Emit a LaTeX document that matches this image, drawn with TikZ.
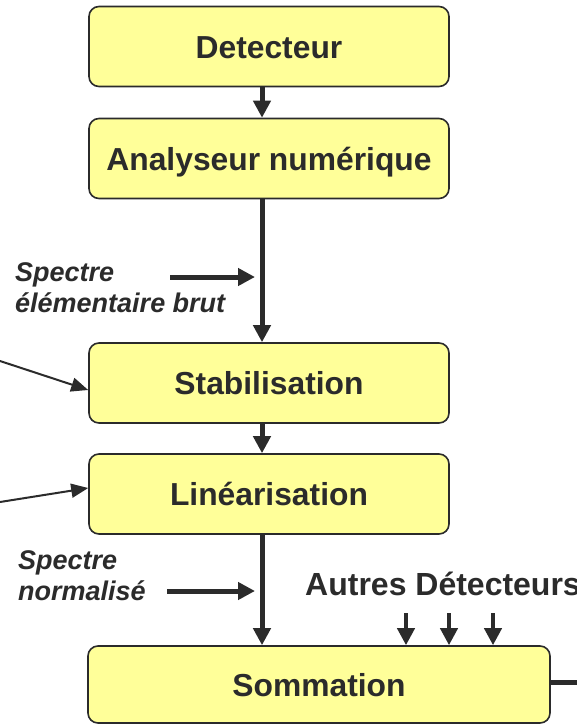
\documentclass[tikz,border=0pt]{standalone}
\usepackage{fontspec}
\setmainfont{Liberation Sans}
\usetikzlibrary{arrows.meta}
\definecolor{boxfill}{HTML}{FFFF99}
\definecolor{ink}{HTML}{2B2B2B}
\begin{document}
\begin{tikzpicture}[x=1pt,y=-1pt,
  stage/.style={draw=ink, line width=1.6pt, fill=boxfill, rounded corners=10pt,
    minimum width=360pt, minimum height=80pt, inner sep=0pt, text=ink,
    text height=23pt, text depth=0pt,
    font=\fontsize{31.8}{36}\selectfont\bfseries},
  flow/.style={draw=ink, line width=5pt, -{Triangle[width=17pt,length=17pt]}},
  feed/.style={draw=ink, line width=2pt, -{Triangle[width=14pt,length=17pt]}},
  tag/.style={inner sep=0pt, text=ink, align=left,
    font=\fontsize{27}{31}\selectfont\bfseries\itshape},
  heading/.style={inner sep=0pt, text=ink, font=\fontsize{32}{36}\selectfont\bfseries},
]
\useasboundingbox (0,0) rectangle (577,724);

% processing chain
\node[stage] (det) at (269,46.5) {Detecteur};
\node[stage] (ana) at (269,158.5) {Analyseur numérique};
\node[stage] (stab) at (269,383) {Stabilisation};
\node[stage] (lin) at (269,494) {Linéarisation};
\node[stage, minimum width=462pt, minimum height=77pt] (som) at (319,684.5) {Sommation};

% main signal path (slightly left of the box centres)
\coordinate (ax) at (262,0);
\draw[flow] (det.south -| ax) -- (ana.north -| ax);
\draw[flow] (ana.south -| ax) -- (stab.north -| ax);
\draw[flow] (stab.south -| ax) -- (lin.north -| ax);
\draw[flow] (lin.south -| ax) -- (som.north -| ax);

% spectrum labels with their pointers (base = last line)
\node[tag, anchor=base west] (s1) at (15,312) {Spectre\\élémentaire brut};
\coordinate (s1a) at (170,277);
\coordinate (s1b) at (255,277);
\draw[flow] (s1a) -- (s1b);

\node[tag, anchor=base west] (s2) at (18,600) {Spectre\\normalisé};
\coordinate (s2a) at (167,591);
\coordinate (s2b) at (255,591);
\draw[flow] (s2a) -- (s2b);

% side inputs coming from the left
\coordinate (in1) at (0,361);
\coordinate (in2) at (0,502);
\draw[feed] (in1) -- (stab.west |- 0,390);
\draw[feed] (in2) -- (lin.west |- 0,488);

% other detectors feeding the sum
\node[heading, anchor=base west] (oth) at (305,595) {Autres Détecteurs};
\foreach \i/\xx in {1/406,2/449,3/493}{
  \coordinate (o\i) at (\xx,613);
  \draw[flow, line width=4pt] (o\i) -- (som.north -| o\i);
}

% output of the sum
\coordinate (out) at (577,682);
\draw[draw=ink, line width=5pt] (som.east |- out) -- (out);
\end{tikzpicture}
\end{document}
